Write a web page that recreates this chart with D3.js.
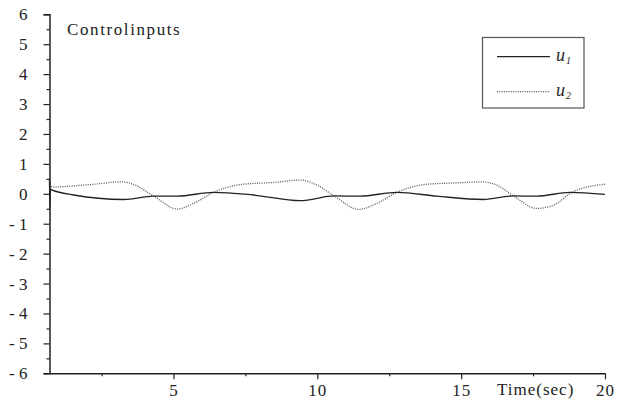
<!DOCTYPE html>
<html>
<head>
<meta charset="utf-8">
<script src="https://cdn.jsdelivr.net/npm/d3@7"></script>
<style>
  body { margin: 0; background: #fff; }
  svg text { font-family: "Liberation Serif", "Tinos", "DejaVu Serif", serif !important; fill: #222; }
</style>
</head>
<body>
<div id="chart"></div>
<script>
// control input traces
const u1Time = [0.69, 0.70, 0.72, 0.79, 1.53, 3.27, 4.31, 5.13, 6.39, 7.78, 9.41, 10.6, 11.49, 12.77, 14.16, 15.77, 16.82, 17.63, 18.78, 20.0];
const u1Values = [0.5, -0.5, 0.15, 0.12, -0.04, -0.19, -0.08, -0.08, 0.05, -0.04, -0.23, -0.07, -0.08, 0.05, -0.08, -0.19, -0.07, -0.08, 0.05, -0.02];

const u2Time = [0.69, 0.70, 0.72, 0.79, 2.12, 3.22, 3.62, 4.32, 5.13, 5.70, 6.40, 7.33, 8.48, 9.41, 9.99, 10.6, 11.43, 12.07, 12.77, 13.81, 14.97, 15.72, 16.24, 16.82, 17.63, 18.21, 18.90, 20.0];
const u2Values = [2.4, -1.2, 0.25, 0.23, 0.31, 0.40, 0.31, -0.08, -0.51, -0.32, 0.05, 0.31, 0.38, 0.46, 0.29, -0.08, -0.52, -0.32, 0.05, 0.32, 0.37, 0.40, 0.29, -0.07, -0.49, -0.38, 0.07, 0.32];

const yTicks = [-6, -5, -4, -3, -2, -1, 0, 1, 2, 3, 4, 5, 6];
const xTicks = [5, 10, 15, 20];
const xMinorTicks = [2.5, 7.5, 12.5, 17.5];
const seriesNames = ["u1", "u2"];

const svgWidth = 628;
const svgHeight = 403;
const serif = "'Liberation Serif', Tinos, 'DejaVu Serif', serif";

const svg = d3.select("#chart").append("svg")
  .attr("width", svgWidth)
  .attr("height", svgHeight)
  .attr("font-family", serif);

const x = d3.scaleLinear().domain([0.69, 20]).range([49.5, 605]);
const y = d3.scaleLinear().domain([-6, 6]).range([373.3, 14.3]);

// y axis
const yAxis = svg.append("g")
  .attr("transform", `translate(${x(0.69)},0)`)
  .call(d3.axisLeft(y).tickValues(yTicks).tickSize(6).tickPadding(16)
    .tickFormat(d => d < 0 ? "- " + Math.abs(d) : d));
yAxis.attr("font-family", serif);
yAxis.select(".domain").attr("stroke", "#222").attr("stroke-width", 1.5);
yAxis.selectAll(".tick line").attr("stroke", "#222").attr("stroke-width", 1.2);
yAxis.selectAll(".tick text").attr("font-size", 17).attr("fill", "#222");

svg.append("g")
  .attr("transform", `translate(${x(0.69)},0)`)
  .call(d3.axisLeft(y).tickValues(yTicks.slice(0, -1).map(d => d + 0.5)).tickSize(3).tickFormat(""))
  .call(g => g.select(".domain").remove())
  .selectAll("line").attr("stroke", "#222").attr("stroke-width", 1.2);

// x axis
const xAxis = svg.append("g")
  .attr("transform", `translate(0,${y(-6)})`)
  .call(d3.axisBottom(x).tickValues(xTicks).tickSize(6).tickPadding(5).tickSizeOuter(0));
xAxis.attr("font-family", serif);
xAxis.select(".domain").attr("stroke", "#222").attr("stroke-width", 1.5);
xAxis.selectAll(".tick line").attr("stroke", "#222").attr("stroke-width", 1.2);
xAxis.selectAll(".tick text").attr("font-size", 17).attr("fill", "#222")
  .attr("letter-spacing", 1);

svg.append("g")
  .attr("transform", `translate(0,${y(-6)})`)
  .call(d3.axisBottom(x).tickValues(xMinorTicks).tickSize(3).tickFormat(""))
  .call(g => g.select(".domain").remove())
  .selectAll("line").attr("stroke", "#222").attr("stroke-width", 1.2);

svg.append("text")
  .attr("x", 497)
  .attr("y", 395)
  .attr("font-size", 17)
  .attr("letter-spacing", 1)
  .text("Time(sec)");

svg.append("text")
  .attr("x", 67)
  .attr("y", 35)
  .attr("font-size", 17)
  .attr("letter-spacing", 1.6)
  .text("Controlinputs");

// lines
const line = d3.line()
  .x(d => x(d[0]))
  .y(d => y(d[1]))
  .curve(d3.curveMonotoneX);

svg.append("path")
  .datum(d3.zip(u2Time, u2Values))
  .attr("fill", "none")
  .attr("stroke", "#555")
  .attr("stroke-width", 1.3)
  .attr("stroke-dasharray", "1,1.3")
  .attr("d", line);

svg.append("path")
  .datum(d3.zip(u1Time, u1Values))
  .attr("fill", "none")
  .attr("stroke", "#222")
  .attr("stroke-width", 1.3)
  .attr("d", line);

// legend
const legend = svg.append("g");
legend.append("rect")
  .attr("x", 482.5).attr("y", 37.5)
  .attr("width", 101.5).attr("height", 70.5)
  .attr("fill", "#fff")
  .attr("stroke", "#555")
  .attr("stroke-width", 1.2);

seriesNames.forEach((name, i) => {
  const ly = 56.7 + i * 35;
  legend.append("line")
    .attr("x1", 497).attr("x2", 550)
    .attr("y1", ly).attr("y2", ly)
    .attr("stroke", i === 0 ? "#222" : "#555")
    .attr("stroke-width", 1.3)
    .attr("stroke-dasharray", i === 0 ? null : "1,1.3");
  const t = legend.append("text")
    .attr("x", 556)
    .attr("y", ly + 4)
    .attr("font-size", 18)
    .attr("font-style", "italic");
  t.append("tspan").text(name[0]);
  t.append("tspan")
    .attr("font-size", 10)
    .attr("dx", 1)
    .attr("dy", 3)
    .text(name.slice(1));
});
</script>
</body>
</html>
